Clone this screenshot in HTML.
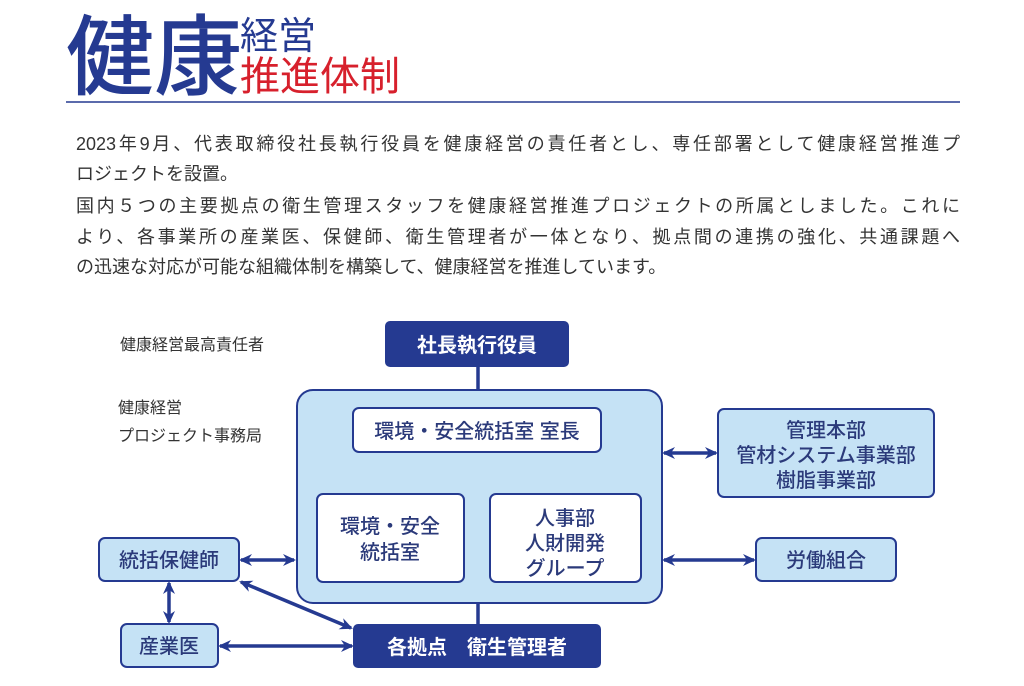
<!DOCTYPE html>
<html><head><meta charset="utf-8"><style>
body{margin:0;width:1024px;height:686px;background:#fff;overflow:hidden;font-family:"Liberation Sans","Noto Sans CJK JP",sans-serif;}
svg{position:absolute;left:0;top:0}
.p{position:absolute;left:76px;width:884px;font-size:18px;color:#333;white-space:nowrap}
.j{text-align:justify;text-align-last:justify}
</style></head><body>
<svg width="1024" height="686" font-family="Liberation Sans, Noto Sans CJK JP, sans-serif">
<defs>
<marker id="a" markerWidth="14" markerHeight="14" refX="11" refY="6" orient="auto-start-reverse" markerUnits="userSpaceOnUse"><path d="M0,0 L13,6 L0,12 L4,6Z" fill="#253a91"/></marker>
</defs>
<text x="66" y="88" font-size="88" font-weight="500" fill="#253a91">健康</text>
<text x="240" y="49" font-size="38" fill="#253a91">経営</text>
<text x="240" y="90" font-size="40" fill="#d7202c">推進体制</text>
<line x1="66" y1="102" x2="960" y2="102" stroke="#253a91" stroke-width="1.5"/>

<g fill="#333" font-size="16">
<text x="120" y="350">健康経営最高責任者</text>
<text x="118" y="413">健康経営</text>
<text x="118" y="441">プロジェクト事務局</text>
</g>
<g stroke="#253a91" stroke-width="3.5" fill="none">
<line x1="478" y1="366" x2="478" y2="390"/>
<line x1="478" y1="452" x2="478" y2="472"/>
<polyline points="391,494 391,472 566,472 566,494"/>
<line x1="478" y1="603" x2="478" y2="625"/>
<line x1="241" y1="560" x2="294" y2="560" marker-start="url(#a)" marker-end="url(#a)"/>
<line x1="664" y1="453" x2="716" y2="453" marker-start="url(#a)" marker-end="url(#a)"/>
<line x1="664" y1="560" x2="754" y2="560" marker-start="url(#a)" marker-end="url(#a)"/>
<line x1="169" y1="583" x2="169" y2="622" marker-start="url(#a)" marker-end="url(#a)"/>
<line x1="220" y1="646" x2="352" y2="646" marker-start="url(#a)" marker-end="url(#a)"/>
<line x1="241" y1="582" x2="351" y2="628" marker-start="url(#a)" marker-end="url(#a)"/>
</g>
<g stroke="#253a91" stroke-width="2">
<rect x="386" y="322" width="182" height="44" rx="4" fill="#253a91"/>
<rect x="297" y="390" width="365" height="213" rx="16" fill="#c5e2f5"/>
<rect x="353" y="408" width="248" height="44" rx="6" fill="#fff"/>
<rect x="317" y="494" width="147" height="88" rx="6" fill="#fff"/>
<rect x="490" y="494" width="151" height="88" rx="6" fill="#fff"/>
<rect x="354" y="625" width="246" height="42" rx="4" fill="#253a91"/>
<rect x="99" y="538" width="140" height="43" rx="6" fill="#c5e2f5"/>
<rect x="121" y="624" width="97" height="43" rx="6" fill="#c5e2f5"/>
<rect x="718" y="409" width="216" height="88" rx="6" fill="#c5e2f5"/>
<rect x="756" y="538" width="140" height="43" rx="6" fill="#c5e2f5"/>
</g>
<g font-size="20" font-weight="bold" text-anchor="middle" fill="#fff">
<text x="477" y="352">社長執行役員</text>
<text x="477" y="654">各拠点　衛生管理者</text>
</g>
<g font-size="20" text-anchor="middle" fill="#2b3a7a" font-weight="500">
<text x="477" y="438">環境・安全統括室 室長</text>
<text x="390" y="533">環境・安全</text>
<text x="390" y="559">統括室</text>
<text x="565" y="525">人事部</text>
<text x="565" y="550">人財開発</text>
<text x="565" y="575">グループ</text>
<text x="169" y="567">統括保健師</text>
<text x="169" y="653">産業医</text>
<text x="826" y="437">管理本部</text>
<text x="826" y="462">管材システム事業部</text>
<text x="826" y="487">樹脂事業部</text>
<text x="826" y="567">労働組合</text>
</g>
</svg>
<div class="p j" style="top:130px">2023年9月、代表取締役社長執行役員を健康経営の責任者とし、専任部署として健康経営推進プ</div>
<div class="p" style="top:160px">ロジェクトを設置。</div>
<div class="p j" style="top:192px">国内５つの主要拠点の衛生管理スタッフを健康経営推進プロジェクトの所属としました。これに</div>
<div class="p j" style="top:223px">より、各事業所の産業医、保健師、衛生管理者が一体となり、拠点間の連携の強化、共通課題へ</div>
<div class="p" style="top:253px">の迅速な対応が可能な組織体制を構築して、健康経営を推進しています。</div>
</body></html>
